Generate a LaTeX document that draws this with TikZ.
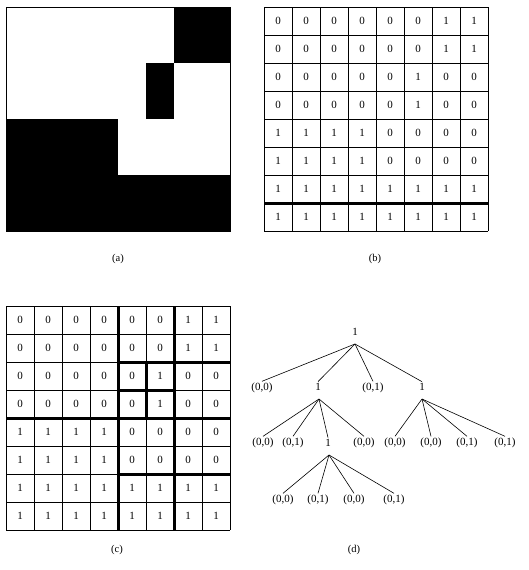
\documentclass[tikz,border=0pt]{standalone}
\usepackage{fontspec}
\setmainfont{Liberation Serif}
\begin{document}
\begin{tikzpicture}[x=1pt,y=-1pt,
  thinline/.style={line width=0.8pt},
  thickline/.style={line width=3pt},
  cell/.style={font=\fontsize{11}{12}\selectfont, inner sep=0pt},
  lab/.style={font=\fontsize{11}{12}\selectfont, inner sep=1.5pt},
  edge/.style={line width=0.6pt},
  caption/.style={font=\fontsize{10.5}{12}\selectfont, inner sep=0pt}]
\useasboundingbox[fill=white] (0,0) rectangle (529,570);
% ---------- (a) image ----------
\draw[thinline] (6,7) rectangle (230,231);
\fill[black] (174,7) rectangle (230,63);
\fill[black] (146,63) rectangle (174,119);
\fill[black] (6,119) rectangle (118,231);
\fill[black] (118,175) rectangle (230,231);
\node[caption] (capa) at (118,259) {(a)};
% ---------- (b) grid ----------
\foreach \i in {0,...,8} {
  \draw[thinline] (264+28*\i,7) -- (264+28*\i,231);
  \draw[thinline] (264,7+28*\i) -- (488,7+28*\i);
}
\draw[thickline] (264,203) -- (488,203);
\foreach \row [count=\r from 0] in {{0,0,0,0,0,0,1,1},{0,0,0,0,0,0,1,1},{0,0,0,0,0,1,0,0},{0,0,0,0,0,1,0,0},{1,1,1,1,0,0,0,0},{1,1,1,1,0,0,0,0},{1,1,1,1,1,1,1,1},{1,1,1,1,1,1,1,1}} {
  \foreach \v [count=\c from 0] in \row {
    \node[cell] (b-\r-\c) at (264+28*\c+14, 7+28*\r+14) {\v};
    \node[cell] (c-\r-\c) at (6+28*\c+14, 306+28*\r+14) {\v};
  }
}
\node[caption] (capb) at (375,259) {(b)};
% ---------- (c) grid ----------
\foreach \i in {0,...,8} {
  \draw[thinline] (6+28*\i,306) -- (6+28*\i,530);
  \draw[thinline] (6,306+28*\i) -- (230,306+28*\i);
}
\draw[thickline] (118,306) -- (118,530);
\draw[thickline] (174,306) -- (174,530);
\draw[thickline] (118,362) -- (230,362);
\draw[thickline] (6,418) -- (230,418);
\draw[thickline] (118,474) -- (230,474);
\draw[thickline] (146,362) -- (146,418);
\draw[thickline] (118,390) -- (174,390);
\node[caption] (capc) at (117,550) {(c)};
% ---------- (d) tree ----------
\node[lab] (root) at (355,332) {1};
\coordinate (br) at (355,344);
\node[lab] (n1) at (262,388) {(0,0)};
\node[lab] (n2) at (318,387) {1};
\node[lab] (n3) at (373,388) {(0,1)};
\node[lab] (n4) at (422,387) {1};
\coordinate (b2) at (319,399);
\coordinate (b4) at (422,399);
\node[lab] (d1) at (263,443) {(0,0)};
\node[lab] (d2) at (293,443) {(0,1)};
\node[lab] (d3) at (328,443) {1};
\node[lab] (d4) at (364,443) {(0,0)};
\node[lab] (e1) at (395,443) {(0,0)};
\node[lab] (e2) at (431,443) {(0,0)};
\node[lab] (e3) at (467,443) {(0,1)};
\node[lab] (e4) at (505,443) {(0,1)};
\coordinate (b3) at (329,455);
\node[lab] (f1) at (283,500) {(0,0)};
\node[lab] (f2) at (318,500) {(0,1)};
\node[lab] (f3) at (354,500) {(0,0)};
\node[lab] (f4) at (394,500) {(0,1)};
\foreach \t in {n1,n2,n3,n4} \draw[edge] (br) -- (\t.north);
\foreach \t in {d1,d2,d3,d4} \draw[edge] (b2) -- (\t.north);
\foreach \t in {e1,e2,e3,e4} \draw[edge] (b4) -- (\t.north);
\foreach \t in {f1,f2,f3,f4} \draw[edge] (b3) -- (\t.north);
\node[caption] (capd) at (354,550) {(d)};
\end{tikzpicture}
\end{document}
